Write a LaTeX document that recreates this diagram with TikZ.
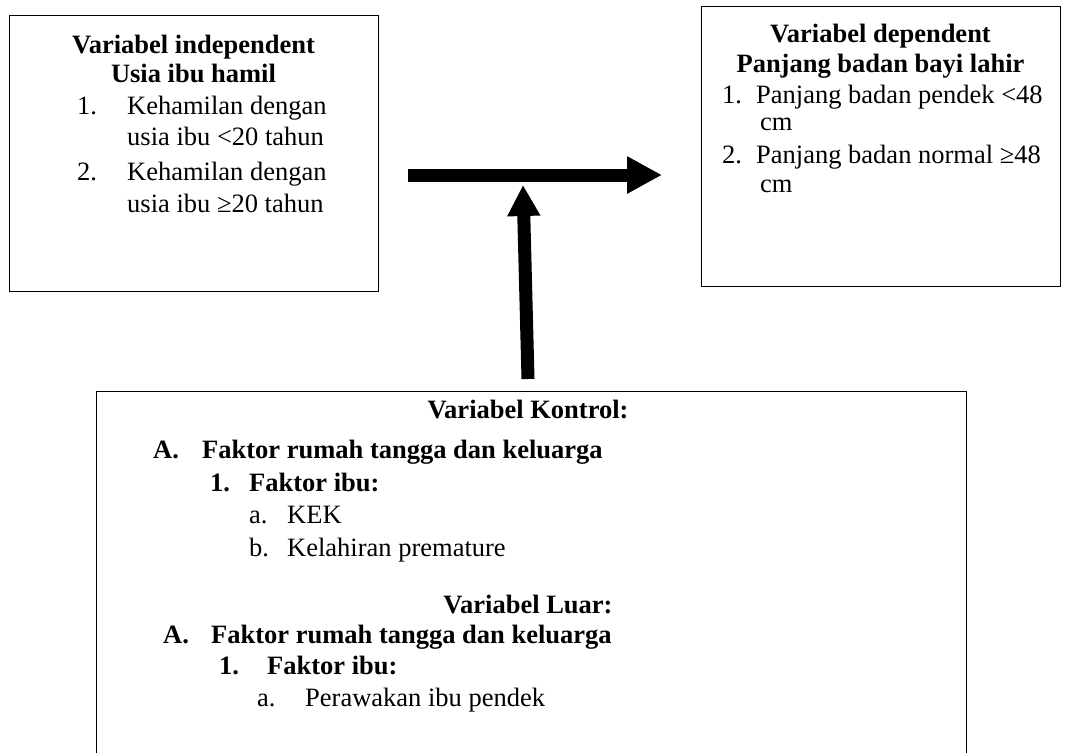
\documentclass[tikz,border=0pt]{standalone}
\usepackage{fontspec}
\setmainfont{Liberation Serif}
\usetikzlibrary{arrows.meta}

\tikzset{
  box/.style={draw, line width=1pt, inner sep=0pt},
  txt/.style={anchor=base west, inner sep=0pt, font=\fontsize{26.5}{30}\selectfont},
  btxt/.style={txt, font=\fontsize{26.5}{30}\selectfont\bfseries},
  ttl/.style={anchor=base, inner sep=0pt, font=\fontsize{26.5}{30}\selectfont\bfseries},
  bigarrow/.style={line width=13pt, -{Triangle[length=35pt,width=35pt]}}
}

\begin{document}
\begin{tikzpicture}[x=1pt, y=-1pt]

	\useasboundingbox (0,0) rectangle (1070,752);

	% boxes
	\node[box, minimum width=369pt, minimum height=275pt] (indep) at (193.5,153.5) {};
	\node[box, minimum width=359pt, minimum height=279pt] (dep) at (880.5,146.5) {};
	\node[box, minimum width=870pt, minimum height=371pt] (kontrol) at (531,576.5) {};

	% independent
	\node[ttl] (indepA) at (193.5,54) {Variabel independent};
	\node[ttl] (indepB) at (193.5,82) {Usia ibu hamil};
	\node[txt] (n1) at (77,114) {1.};
	\node[txt] (usia1a) at (127,114) {Kehamilan dengan};
	\node[txt] (usia1b) at (127,145) {usia ibu <20 tahun};
	\node[txt] (n2) at (77,180) {2.};
	\node[txt] (usia2a) at (127,180) {Kehamilan dengan};
	\node[txt] (usia2b) at (127,212) {usia ibu ≥20 tahun};

	% dependent
	\node[ttl] (depA) at (880.5,43) {Variabel dependent};
	\node[ttl] (depB) at (880.5,72) {Panjang badan bayi lahir};
	\node[txt] (m1) at (722,103) {1.};
	\node[txt] (pb1a) at (756,103) {Panjang badan pendek <48};
	\node[txt] (pb1b) at (760,130) {cm};
	\node[txt] (m2) at (722,163) {2.};
	\node[txt] (pb2a) at (756,163) {Panjang badan normal ≥48};
	\node[txt] (pb2b) at (760,192) {cm};

	% kontrol
	\node[ttl] (kA) at (528,418) {Variabel Kontrol:};
	\node[btxt] (kB) at (153,458) {A.};
	\node[btxt] (kC) at (202,458) {Faktor rumah tangga dan keluarga};
	\node[btxt] (kD) at (210,491) {1.};
	\node[btxt] (kE) at (249,491) {Faktor ibu:};
	\node[txt] (kF) at (249,523) {a.};
	\node[txt] (kek) at (287,523) {KEK};
	\node[txt] (kG) at (249,556) {b.};
	\node[txt] (prem) at (287,556) {Kelahiran premature};

	% luar
	\node[ttl] (lA) at (528,613) {Variabel Luar:};
	\node[btxt] (lB) at (163,643) {A.};
	\node[btxt] (lC) at (211,643) {Faktor rumah tangga dan keluarga};
	\node[btxt] (lD) at (219,674) {1.};
	\node[btxt] (lE) at (267,674) {Faktor ibu:};
	\node[txt] (lF) at (257,706) {a.};
	\node[txt] (pendek) at (305,706) {Perawakan ibu pendek};

	% arrows
	\coordinate (hfrom) at (408,175);
	\coordinate (hto) at (662,175);
	\coordinate (vfrom) at (528,379);
	\coordinate (vto) at (523,185);
	\draw[bigarrow] (hfrom) -- (hto);
	\draw[bigarrow, -{Triangle[length=31pt,width=31pt]}] (vfrom) -- (vto);

\end{tikzpicture}
\end{document}
